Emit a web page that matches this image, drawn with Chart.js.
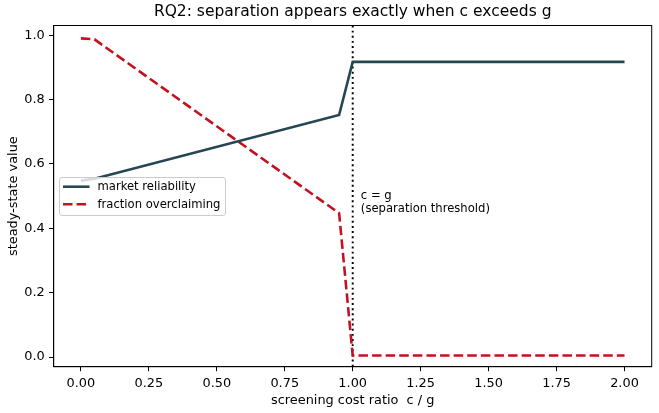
<!DOCTYPE html>
<html>
<head>
<meta charset="utf-8">
<script src="https://cdn.jsdelivr.net/npm/chart.js@4/dist/chart.umd.min.js"></script>
<style>
  html, body { margin: 0; padding: 0; background: #ffffff; }
  #wrap { width: 659px; height: 413px; }
</style>
</head>
<body>
<div id="wrap"><canvas id="c" width="659" height="413"></canvas></div>
<script>
// ---- data ----
const costRatio     = [0, 0.05, 0.95, 1.0, 2.0];
const reliability   = [0.548, 0.554, 0.752, 0.917, 0.917];
const overclaiming  = [0.99, 0.987, 0.447, 0.005, 0.005];
const seriesNames   = ['market reliability', 'fraction overclaiming'];
const xTicks = [0, 0.25, 0.5, 0.75, 1.0, 1.25, 1.5, 1.75, 2.0];
const yTicks = [0, 0.2, 0.4, 0.6, 0.8, 1.0];
const threshold = 1.0;
const thresholdText = ['c = g', '(separation threshold)'];
const titleText = 'RQ2: separation appears exactly when c exceeds g';
const xLabel = 'screening cost ratio  c / g';
const yLabel = 'steady-state value';

const BLUE = '#264653';
const RED = '#c1121f';
const FONT = "'DejaVu Sans', sans-serif";
const TICK_FONT = 12.9;
const SMALL_FONT = 11.6;
const LW = 2.58;

const toPts = (ys) => costRatio.map((x, i) => ({ x: x, y: ys[i] }));

const decor = {
  id: 'decor',
  beforeDatasetsDraw(chart) {
    const { ctx, chartArea: a, scales: { x } } = chart;
    const px = x.getPixelForValue(threshold);
    ctx.save();
    ctx.strokeStyle = '#000';
    ctx.lineWidth = 1.94;
    ctx.setLineDash([1.94, 3.2]);
    ctx.beginPath();
    ctx.moveTo(px, a.top);
    ctx.lineTo(px, a.bottom);
    ctx.stroke();
    ctx.restore();
  },
  afterDatasetsDraw(chart) {
    const { ctx, chartArea: a, scales: { x, y } } = chart;
    ctx.save();
    // annotation text
    ctx.fillStyle = '#000';
    ctx.font = SMALL_FONT + 'px ' + FONT;
    ctx.textAlign = 'left';
    ctx.textBaseline = 'alphabetic';
    const tx = x.getPixelForValue(1.03);
    const ty = y.getPixelForValue(0.45);
    ctx.fillText(thresholdText[0], tx, ty - 13.5);
    ctx.fillText(thresholdText[1], tx, ty);

    // frame (all four spines)
    ctx.strokeStyle = '#000';
    ctx.lineWidth = 1;
    ctx.setLineDash([]);
    ctx.strokeRect(a.left, a.top, a.right - a.left, a.bottom - a.top);

    // legend
    const lx = 59.5, ly = 177.5, lw = 166, lh = 38, r = 2.5;
    ctx.beginPath();
    ctx.moveTo(lx + r, ly);
    ctx.lineTo(lx + lw - r, ly);
    ctx.arcTo(lx + lw, ly, lx + lw, ly + r, r);
    ctx.lineTo(lx + lw, ly + lh - r);
    ctx.arcTo(lx + lw, ly + lh, lx + lw - r, ly + lh, r);
    ctx.lineTo(lx + r, ly + lh);
    ctx.arcTo(lx, ly + lh, lx, ly + lh - r, r);
    ctx.lineTo(lx, ly + r);
    ctx.arcTo(lx, ly, lx + r, ly, r);
    ctx.closePath();
    ctx.fillStyle = 'rgba(255,255,255,0.8)';
    ctx.fill();
    ctx.strokeStyle = '#cccccc';
    ctx.lineWidth = 1;
    ctx.stroke();

    const rows = [186.7, 204.3];
    chart.data.datasets.forEach((ds, i) => {
      ctx.strokeStyle = ds.borderColor;
      ctx.lineWidth = ds.borderWidth;
      ctx.setLineDash(ds.borderDash || []);
      ctx.beginPath();
      ctx.moveTo(63, rows[i]);
      ctx.lineTo(89.5, rows[i]);
      ctx.stroke();
      ctx.setLineDash([]);
      ctx.fillStyle = '#000';
      ctx.font = SMALL_FONT + 'px ' + FONT;
      ctx.textBaseline = 'middle';
      ctx.fillText(ds.label, 97.5, rows[i] + 0.5);
    });
    ctx.restore();
  }
};

new Chart(document.getElementById('c'), {
  type: 'line',
  data: {
    datasets: [
      { label: seriesNames[0], data: toPts(reliability), borderColor: BLUE, backgroundColor: BLUE,
        borderWidth: LW, pointRadius: 0, tension: 0, fill: false },
      { label: seriesNames[1], data: toPts(overclaiming), borderColor: RED, backgroundColor: RED,
        borderWidth: LW, borderDash: [9.5, 4.1], pointRadius: 0, tension: 0, fill: false }
    ]
  },
  options: {
    responsive: false,
    animation: false,
    devicePixelRatio: 1,
    layout: { padding: { left: 0, right: 7.3, top: 0, bottom: 0 } },
    plugins: {
      legend: { display: false },
      tooltip: { enabled: false },
      title: {
        display: true, text: titleText, color: '#000', fullSize: false,
        font: { family: FONT, size: 15.5, weight: 'normal' },
        padding: { top: 3, bottom: 3.9 }
      }
    },
    scales: {
      x: {
        type: 'linear', min: -0.1, max: 2.1,
        afterBuildTicks: (s) => { s.ticks = xTicks.map(v => ({ value: v })); },
        afterFit: (s) => { s.height = 46.3; },
        ticks: { autoSkip: false, maxRotation: 0, color: '#000', padding: 4.5,
                 font: { family: FONT, size: TICK_FONT },
                 callback: (v) => Number(v).toFixed(2) },
        grid: { drawOnChartArea: false, drawTicks: true, tickLength: 4.5, color: '#000', lineWidth: 1 },
        border: { display: true, color: '#000', width: 1 },
        title: { display: true, text: xLabel, color: '#000',
                 font: { family: FONT, size: TICK_FONT }, padding: { top: 0, bottom: 4.8 } }
      },
      y: {
        type: 'linear', min: -0.03, max: 1.03,
        afterBuildTicks: (s) => { s.ticks = yTicks.map(v => ({ value: v })); },
        afterFit: (s) => { s.width = 53.7; },
        ticks: { autoSkip: false, color: '#000', padding: 4.5,
                 font: { family: FONT, size: TICK_FONT },
                 callback: (v) => Number(v).toFixed(1) },
        grid: { drawOnChartArea: false, drawTicks: true, tickLength: 4.5, color: '#000', lineWidth: 1 },
        border: { display: true, color: '#000', width: 1 },
        title: { display: true, text: yLabel, color: '#000',
                 font: { family: FONT, size: TICK_FONT }, padding: { top: 6, bottom: 0 } }
      }
    }
  },
  plugins: [decor]
});
</script>
</body>
</html>
